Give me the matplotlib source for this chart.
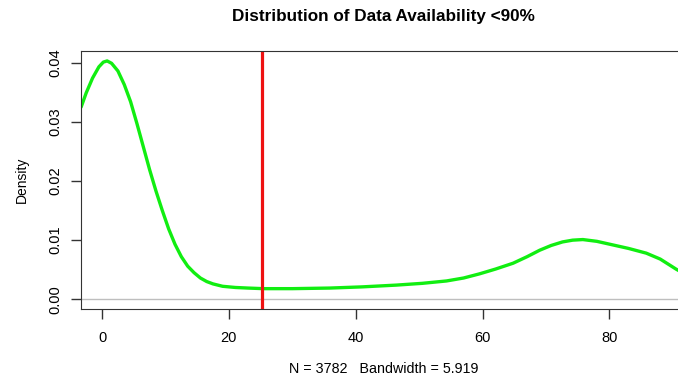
import matplotlib
matplotlib.use("Agg")
import matplotlib.pyplot as plt

# density curve (x = availability %, y = density)
avail = [-3.3, -2.5, -1.5, -0.5, 0.2, 0.8, 1.5, 2.5, 3.5, 4.5, 5.5, 6.5, 7.5,
         8.5, 9.5, 10.5, 11.5, 12.5, 13.5, 14.5, 15.5, 16.5, 17.5, 19.0, 21.0,
         23.0, 25.4, 30.0, 35.9, 41.0, 46.4, 50.5, 54.3, 57.0, 59.5, 62.0, 64.8,
         67.0, 69.0, 70.8, 72.6, 74.2, 75.8, 78.0, 80.5, 83.0, 85.8, 88.0, 90.5,
         92.0]
density = [0.0325, 0.0349, 0.0374, 0.0393, 0.0401, 0.0403, 0.0399, 0.0386,
           0.0363, 0.0334, 0.0297, 0.0258, 0.0219, 0.0183, 0.0150, 0.0119,
           0.0093, 0.0072, 0.0056, 0.0045, 0.0036, 0.0030, 0.0026, 0.0022,
           0.0020, 0.0019, 0.0018, 0.0018, 0.0019, 0.0021, 0.0024, 0.0027,
           0.0031, 0.0036, 0.0043, 0.0051, 0.0061, 0.0072, 0.0083, 0.0091,
           0.0097, 0.0100, 0.0101, 0.0098, 0.0092, 0.0086, 0.0078, 0.0068,
           0.0051, 0.0042]
cutoff = 25.2
n_obs = 3782
bandwidth = 5.919

plt.rcParams['font.family'] = ['Liberation Sans', 'DejaVu Sans']

fig = plt.figure(figsize=(6.78, 3.79), dpi=100)
ax = fig.add_axes([80.5 / 678, 1 - 308.7 / 379, 1 - 80.5 / 678, (308.7 - 50.7) / 379])

ax.axhline(0, color='#bebebe', lw=1)
ax.plot(avail, density, color='#11ee11', lw=2.4, solid_capstyle='round',
        solid_joinstyle='round')
ax.axvline(cutoff, color='#ee1111', lw=2.3)

ax.set_xlim(-3.4, 90.8)
ax.set_ylim(-0.00159, 0.04203)
ax.set_xticks([0, 20, 40, 60, 80])
ax.set_yticks([0, 0.01, 0.02, 0.03, 0.04])
ax.set_yticklabels(['0.00', '0.01', '0.02', '0.03', '0.04'], rotation=90, va='center')
ax.tick_params(direction='out', length=7, width=1, colors='#333333', labelsize=10.5,
               labelcolor='black')
ax.tick_params(axis='x', pad=9)
ax.tick_params(axis='y', pad=6)
for s in ['left', 'top', 'bottom']:
    ax.spines[s].set_color('#333333')
ax.spines['right'].set_visible(False)

fig.text(383 / 678, 1 - 17 / 379, "Distribution of Data Availability <90%",
         ha='center', va='center', fontsize=12.3, fontweight='bold')
fig.text(384 / 678, 1 - 369 / 379, f"N = {n_obs}   Bandwidth = {bandwidth}",
         ha='center', va='center', fontsize=10.3)
fig.text(22 / 678, 1 - 180 / 379, "Density", rotation=90,
         ha='center', va='center', fontsize=10)

fig.savefig("out.png", dpi=100)
